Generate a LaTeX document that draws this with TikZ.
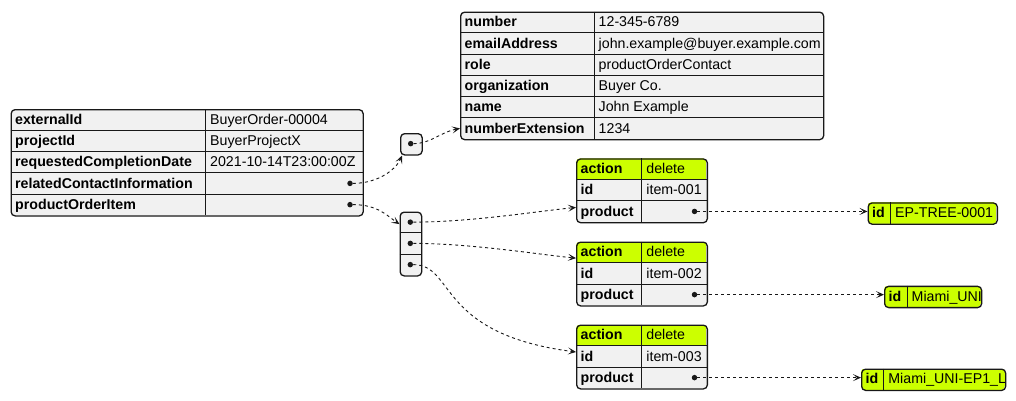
\documentclass[tikz,border=0pt]{standalone}
\usepackage{fontspec}
\setmainfont{Liberation Sans}
\usetikzlibrary{arrows.meta}
\definecolor{jgray}{HTML}{F1F1F1}
\definecolor{jgreen}{HTML}{CCFF00}
\definecolor{jline}{HTML}{181818}
\tikzset{
  frame/.style={draw=jline, line width=1.3pt, rounded corners=4pt, inner sep=0pt, anchor=north west},
  keytxt/.style={font=\fontsize{14.2}{16}\selectfont\bfseries, text=black, anchor=west, inner sep=0pt, text height=12.4pt, text depth=3pt},
  valtxt/.style={font=\fontsize{14.2}{16}\selectfont, text=black, anchor=west, inner sep=0pt, text height=12.4pt, text depth=3pt},
  jdot/.style={circle, fill=jline, inner sep=0pt, minimum size=5.5pt},
  cellline/.style={draw=jline, line width=0.9pt},
  link/.style={draw=jline, line width=0.9pt, dash pattern=on 3pt off 3pt, -{Stealth[length=8pt,width=7pt,inset=4pt]}},
}
\def\rh{21.25}
% #1 name, #2 x, #3 y, #4 divider x, #5 right x, #6 rows, #7 body colour, #8 header colour, #9 key/value list
\newcommand\jtab[9]{%
  \pgfmathsetmacro\jb{#3+\rh*#6}%
  \begin{scope}
    \clip[rounded corners=4pt] (#2,#3) rectangle (#5,\jb);
    \fill[#7] (#2,#3) rectangle (#5,\jb);
    \fill[#8] (#2,#3) rectangle (#5,#3+\rh);
  \end{scope}
  \foreach \k/\v [count=\i] in {#9} {
    \node[keytxt] (#1-k\i) at (#2+4.5, #3+\rh*\i-\rh/2) {\k};
    \node[valtxt] (#1-v\i) at (#4+4.5, #3+\rh*\i-\rh/2) {\v};
    \ifnum\i<#6 \draw[cellline] (#2,#3+\rh*\i) -- (#5,#3+\rh*\i); \fi
  }
  \draw[cellline] (#4,#3) -- (#4,\jb);
  \node[frame, minimum width=#5-#2, minimum height=\rh*#6] (#1) at (#2,#3) {};
}
\begin{document}
\begin{tikzpicture}[x=1pt,y=-1pt]
\useasboundingbox[fill=white] (0,0) rectangle (1016,400);

\jtab{main}{10.5}{109}{205.5}{362.5}{5}{jgray}{jgray}{externalId/BuyerOrder-00004, projectId/BuyerProjectX, requestedCompletionDate/2021-10-14T23:00:00Z, relatedContactInformation/{}, productOrderItem/{}}
\node[jdot] (main-d4) at (350,109+\rh*3.5) {};
\node[jdot] (main-d5) at (350,109+\rh*4.5) {};

\jtab{contact}{460}{11.5}{594}{823}{6}{jgray}{jgray}{number/12-345-6789, emailAddress/john.example@buyer.example.com, role/productOrderContact, organization/Buyer Co., name/John Example, numberExtension/1234}

% array of contacts
\node[frame, fill=jgray, minimum width=21.5, minimum height=\rh] (a1) at (400,133) {};
\node[jdot] (a1-d1) at (410.7,133+\rh/2) {};

% array of items
\begin{scope}
  \clip[rounded corners=4pt] (399.5,211.5) rectangle (421,211.5+\rh*3);
  \fill[jgray] (399.5,211.5) rectangle (421,211.5+\rh*3);
\end{scope}
\draw[cellline] (399.5,211.5+\rh) -- (421,211.5+\rh);
\draw[cellline] (399.5,211.5+\rh*2) -- (421,211.5+\rh*2);
\node[frame, minimum width=21.5, minimum height=\rh*3] (a2) at (399.5,211.5) {};
\node[jdot] (a2-d1) at (410.3,211.5+\rh*0.5) {};
\node[jdot] (a2-d2) at (410.3,211.5+\rh*1.5) {};
\node[jdot] (a2-d3) at (410.3,211.5+\rh*2.5) {};

\jtab{item1}{576}{158.3}{641.7}{706.7}{3}{jgray}{jgreen}{action/delete, id/item-001, product/{}}
\jtab{item2}{576}{241.5}{641.7}{706.7}{3}{jgray}{jgreen}{action/delete, id/item-002, product/{}}
\jtab{item3}{576}{324.5}{641.7}{706.7}{3}{jgray}{jgreen}{action/delete, id/item-003, product/{}}
\node[jdot] (item1-d3) at (694.5,158.3+\rh*2.5) {};
\node[jdot] (item2-d3) at (694.5,241.5+\rh*2.5) {};
\node[jdot] (item3-d3) at (694.5,324.5+\rh*2.5) {};

\jtab{prod1}{867.5}{202.3}{890.5}{996.7}{1}{jgreen}{jgreen}{id/EP-TREE-0001}
\jtab{prod2}{884}{285.7}{907}{981}{1}{jgreen}{jgreen}{id/Miami\_UNI}
\jtab{prod3}{861}{368.5}{883.7}{1005}{1}{jgreen}{jgreen}{id/Miami\_UNI-EP1\_L}

% connectors
\draw[link] (main-d4) .. controls +(28,0) and +(-6,14) .. ([xshift=2pt]a1.south west);
\draw[link] (a1-d1) .. controls +(20,0) and +(-20,4) .. (contact.west |- contact-k6);
\draw[link] (main-d5) .. controls +(28,0) and +(-12,-8) .. ([yshift=-2pt]a2.west |- a2-d1);
\draw[link] (a2-d1) .. controls +(60,0) and +(-40,4) .. ([yshift=4pt]item1.west |- item1-k3);
\draw[link] (a2-d2) .. controls +(60,0) and +(-40,-4) .. ([yshift=-6pt]item2.west |- item2-k1);
\draw[link] (a2-d3) .. controls +(45,0) and +(-140,-18) .. ([yshift=4.4pt]item3.west |- item3-k2);
\draw[link] (item1-d3) -- (item1-d3 -| prod1.west);
\draw[link] (item2-d3) -- (item2-d3 -| prod2.west);
\draw[link] (item3-d3) -- (item3-d3 -| prod3.west);
\end{tikzpicture}
\end{document}
